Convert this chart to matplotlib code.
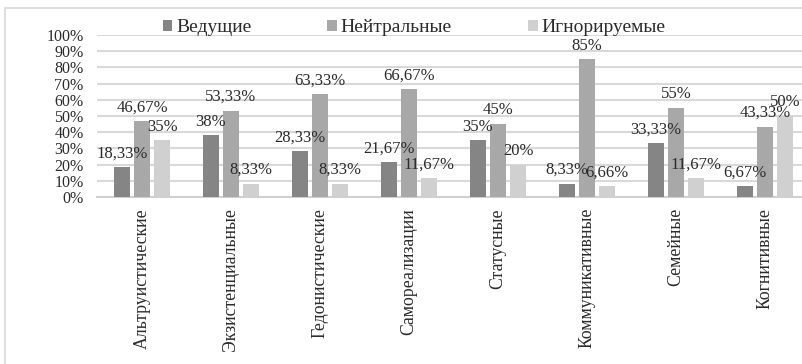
import numpy as np
import matplotlib
matplotlib.use("Agg")
import matplotlib.pyplot as plt
from matplotlib.patches import Rectangle

plt.rcParams['font.family'] = ['Liberation Serif', 'DejaVu Serif']

# Data
categories = ["Альтруистические", "Экзистенциальные", "Гедонистические",
              "Самореализации", "Статусные", "Коммуникативные",
              "Семейные", "Когнитивные"]
series_names = ["Ведущие", "Нейтральные", "Игнорируемые"]
leading = [18.33, 38, 28.33, 21.67, 35, 8.33, 33.33, 6.67]
neutral = [46.67, 53.33, 63.33, 66.67, 45, 85, 55, 43.33]
ignored = [35, 8.33, 8.33, 11.67, 20, 6.66, 11.67, 50]
y_ticks = [0, 10, 20, 30, 40, 50, 60, 70, 80, 90, 100]

colors = ["#858585", "#a8a8a8", "#d0d0d0"]
text_color = "#2b2b2b"


def fmt(v):
    s = f"{v:.2f}".rstrip("0").rstrip(".")
    return s.replace(".", ",") + "%"


fig = plt.figure(figsize=(8.03, 3.64), dpi=100)
ax = fig.add_axes([97.5 / 803, 1 - 197 / 364, 712 / 803, 162 / 364])

# outer chart border
fig.patches.append(Rectangle((5 / 803, -0.1), 1.1, 1 - 8 / 364 + 0.1,
                             transform=fig.transFigure, fill=False,
                             edgecolor="#d9d9d9", lw=1.2))

x = np.arange(len(categories))
width = 0.18
step = 0.225
for i, (vals, name) in enumerate(zip([leading, neutral, ignored], series_names)):
    pos = x + (i - 1) * step
    bars = ax.bar(pos, vals, width=width, color=colors[i], label=name, zorder=3)
    for b, v in zip(bars, vals):
        ax.annotate(fmt(v), (b.get_x() + b.get_width() / 2, v),
                    xytext=(0, 7), textcoords="offset points",
                    ha="center", va="baseline", fontsize=12,
                    color=text_color, zorder=4, annotation_clip=False)

ax.set_ylim(0, 100)
ax.set_xlim(-0.5, len(categories) - 0.5)
ax.set_yticks(y_ticks)
ax.set_yticklabels([f"{t}%" for t in y_ticks], fontsize=11.5, color=text_color)
ax.set_xticks(x)
ax.set_xticklabels(categories, rotation=90, va="top", ha="center",
                   fontsize=12.8, color=text_color)
ax.tick_params(axis="both", length=0)
ax.tick_params(axis="y", pad=10)
ax.tick_params(axis="x", pad=8)
ax.yaxis.grid(True, color="#d9d9d9", lw=1.5, zorder=0)
for s in ["top", "right", "left"]:
    ax.spines[s].set_visible(False)
ax.spines["bottom"].set_color("#d0d0d0")
ax.spines["bottom"].set_linewidth(1.5)

leg = fig.legend(loc="center", bbox_to_anchor=(414 / 803, 1 - 28 / 364), ncol=3,
                 frameon=False, fontsize=14, handlelength=0.5, handleheight=0.5,
                 handletextpad=0.2, columnspacing=3.9)
for t in leg.get_texts():
    t.set_color(text_color)

fig.savefig("out.png", dpi=100)
